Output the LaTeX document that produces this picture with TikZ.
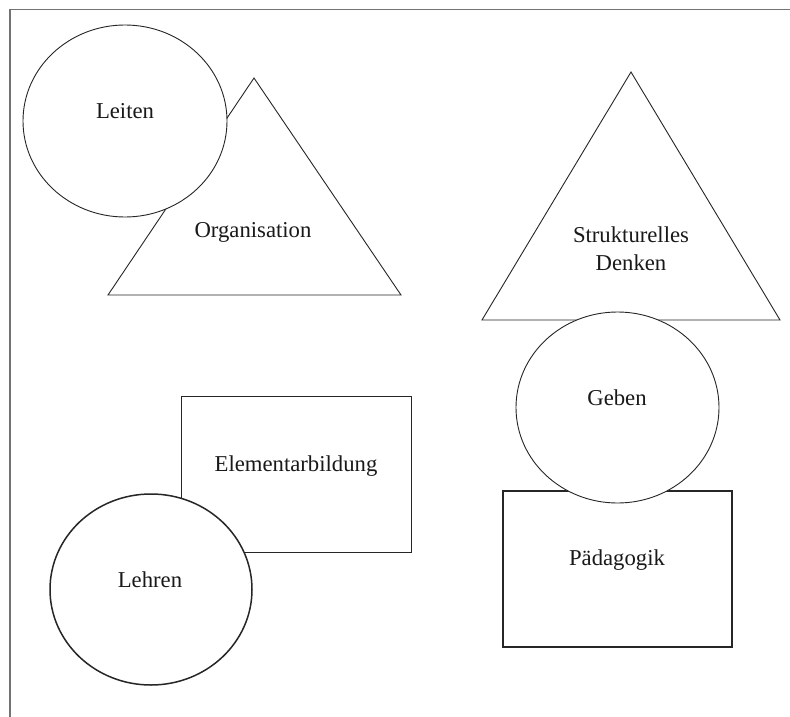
\documentclass[tikz,border=0pt]{standalone}
\usepackage{fontspec}
\setmainfont{Liberation Serif}
\usetikzlibrary{shapes.geometric}
\begin{document}
\begin{tikzpicture}[x=1pt,y=-1pt,
  shapeline/.style={draw=black!85,line width=0.9pt,fill=white},
  thickline/.style={draw=black!85,line width=1.5pt,fill=white},
  oval/.style={ellipse,inner sep=0pt},
  box/.style={rectangle,inner sep=0pt},
  lbl/.style={anchor=base,inner sep=0pt,font=\fontsize{22.7}{28}\selectfont,text=black!90,align=center}]
\useasboundingbox (0,0) rectangle (790,717);
\fill[white] (0,0) rectangle (790,717);
\draw[black!55,line width=1.5pt] (10,717) -- (10,9.5) -- (790,9.5);
% Organisation triangle
\coordinate (oA) at (254,78);
\coordinate (oB) at (108,295);
\coordinate (oC) at (401,295);
\draw[shapeline] (oA) -- (oC) -- (oB) -- cycle;
\node[lbl] (org) at (253,237) {Organisation};
% Leiten circle
\node[oval,shapeline,minimum width=204pt,minimum height=192pt] (leiten) at (125,121) {};
\node[lbl] (leitenT) at (125,118) {Leiten};
% Strukturelles Denken triangle
\coordinate (sA) at (631,72);
\coordinate (sB) at (482,320);
\coordinate (sC) at (780,320);
\draw[shapeline] (sA) -- (sC) -- (sB) -- cycle;
\node[lbl,anchor=north] (struk) at (631,227) {Strukturelles\\Denken};
% Paedagogik rectangle
\node[box,thickline,minimum width=229pt,minimum height=156pt] (paed) at (617.5,569) {};
\node[lbl] (paedT) at (617,565) {Pädagogik};
% Geben circle
\node[oval,shapeline,minimum width=203pt,minimum height=191pt] (geben) at (617.5,407.5) {};
\node[lbl] (gebenT) at (617,405) {Geben};
% Elementarbildung rectangle
\node[box,shapeline,minimum width=230pt,minimum height=156pt] (elem) at (296,474) {};
\node[lbl] (elemT) at (296,471) {Elementarbildung};
% Lehren circle
\node[oval,thickline,minimum width=202pt,minimum height=191pt] (lehren) at (151,589.5) {};
\node[lbl] (lehrenT) at (150,587) {Lehren};
\end{tikzpicture}
\end{document}
